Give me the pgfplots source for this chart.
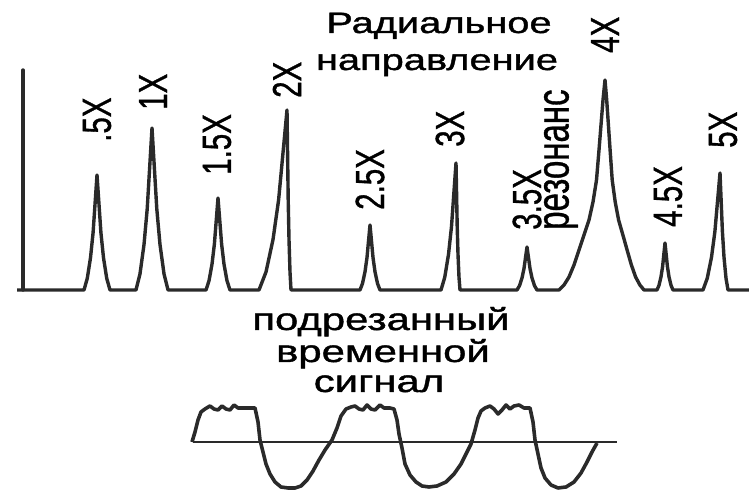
\documentclass[border=0pt]{standalone}
\usepackage{fontspec}
\setmainfont{Liberation Sans}
\newfontfamily\widefont[FakeStretch=1.35,FakeBold=1.3]{Liberation Sans}
\newfontfamily\labfont[FakeBold=1.0]{Liberation Sans}
\usepackage{graphicx}
\usepackage{pgfplots}
\pgfplotsset{compat=1.18}
\definecolor{ink}{HTML}{2A2A2A}
\newcommand{\vlab}[2][29.5]{\scalebox{1.38}[1]{\rotatebox{90}{\labfont\fontsize{#1}{#1}\selectfont #2}}}
\begin{document}
\begin{tikzpicture}
\useasboundingbox (0,0) rectangle (749pt,494pt);
% ---------------- spectrum ----------------
\begin{axis}[x=1pt, y=1pt, xmin=0, xmax=749, ymin=0, ymax=290,
  enlargelimits=false, hide axis, clip=false,
  at={(0pt,204pt)}, anchor=south west]
\addplot[ink, line width=3.4pt, line join=round, line cap=round] coordinates {
(23,0) (23,220)};
\addplot[ink, line width=3.4pt, line join=round] coordinates {
(17,0) (84,0) (87.25,11.5) (90.5,32.2) (93.1,57.5) (95.05,86.3) (97,115) (98.95,86.3) (100.9,57.5) (103.5,32.2) (106.75,11.5) (110,0)
(136,0) (140,16.2) (144,45.4) (147.2,81) (149.6,121.5) (152,162) (154.4,121.5) (156.8,81) (160,45.4) (164,16.2) (168,0)
(206,0) (209,9.2) (212,25.8) (214.4,46) (216.2,69) (218,92) (219.8,69) (221.6,46) (224,25.8) (227,9.2) (230,0)
(259,0) (266,18) (273,50.4) (278.6,90) (282.8,135) (287,180) (287.6,135) (288.2,90) (289,50.4) (290,18) (291,0)
(360,0) (362.5,6.5) (365,18.2) (367,32.5) (368.5,48.8) (370,65) (371.5,48.8) (373,32.5) (375,18.2) (377.5,6.5) (380,0)
(441,0) (444.75,12.7) (448.5,35.6) (451.5,63.5) (453.75,95.3) (456,127) (456.6,95.3) (457.2,63.5) (458,35.6) (459,12.7) (460,0)
(517,0) (519.5,4.3) (522,12) (524,21.5) (525.5,32.3) (527,43) (528.5,32.3) (530,21.5) (532,12) (534.5,4.3) (537,0)
(559,0) (564,5) (569,13) (574,25) (579,40) (584,55) (589,70) (593,88) (596.5,110) (599,140) (601,165) (603,190) (605,210)
(606.7,190) (608.4,165) (610.1,140) (612.2,110) (615.2,88) (618.6,70) (622.9,55) (627.1,40) (631.4,25) (635.6,13) (639.9,5) (644,0)
(657,0) (659,4.7) (661,13.2) (662.6,23.5) (663.8,35.3) (665,47) (666.2,35.3) (667.4,23.5) (669,13.2) (671,4.7) (673,0)
(703,0) (707.25,11.7) (711.5,32.8) (714.9,58.5) (717.45,87.8) (720,117) (721.2,87.8) (722.4,58.5) (724,32.8) (726,11.7) (728,0)
(749,0)};
\end{axis}
% ---------------- clipped time signal ----------------
\begin{axis}[x=1pt, y=1pt, xmin=0, xmax=749, ymin=-52, ymax=52,
  enlargelimits=false, hide axis, clip=false,
  at={(0pt,0pt)}, anchor=south west]
\addplot[ink, line width=2.6pt] coordinates {(193,0) (617,0)};
\addplot[ink, line width=3.6pt, line join=round] coordinates {
(192,0) (195,10) (198,22) (201,30) (205,33) (210,36) (214,33) (218,32) (222,36) (226,33) (230,32) (234,37) (238,34) (244,34) (250,34) (255,34)
(258,20) (260,2) (263,-10) (266,-22) (270,-32) (275,-40) (281,-45) (288,-46) (295,-46) (301,-44) (307,-38) (313,-29) (319,-18) (325,-8) (332,2)
(337,14) (341,26) (346,33) (351,35) (355,36) (359,33) (363,32) (367,37) (371,33) (375,32) (380,37) (384,34) (390,34) (394,33)
(397,22) (399,8) (402,-6) (405,-22) (410,-33) (416,-40) (422,-44) (429,-45) (437,-44) (446,-40) (454,-32) (461,-22) (466,-12) (471,-2)
(475,12) (478,24) (481,31) (485,34) (490,36) (494,33) (498,28) (502,32) (506,37) (510,33) (514,36) (519,37) (524,34) (530,34)
(533,20) (535,2) (538,-12) (541,-26) (545,-36) (551,-43) (558,-46) (566,-45) (574,-40) (581,-31) (587,-20) (592,-10) (597,-1)};
\end{axis}
% ---------------- texts ----------------
\begin{scope}[every node/.style={inner sep=0pt, text=black}]
\node[anchor=base] at (439pt,461pt) {\widefont\fontsize{29.5}{30}\selectfont Радиальное};
\node[anchor=base] at (437pt,424pt) {\widefont\fontsize{29.5}{30}\selectfont направление};
\node[anchor=south] at (97pt,352pt) {\vlab{.5X}};
\node[anchor=south] at (153pt,384pt) {\vlab{1X}};
\node[anchor=south] at (217pt,319pt) {\vlab{1.5X}};
\node[anchor=south] at (287pt,396pt) {\vlab{2X}};
\node[anchor=south] at (370pt,284pt) {\vlab{2.5X}};
\node[anchor=south] at (450pt,347pt) {\vlab{3X}};
\node[anchor=south] at (527pt,264pt) {\vlab{3.5X}};
\node[anchor=south] at (561pt,264pt) {\vlab[33]{резонанс}};
\node[anchor=south] at (605pt,441pt) {\vlab{4X}};
\node[anchor=south] at (668pt,267pt) {\vlab{4.5X}};
\node[anchor=south] at (723pt,346pt) {\vlab{5X}};
\node[anchor=base] at (381pt,164pt) {\widefont\fontsize{31}{31}\selectfont подрезанный};
\node[anchor=base] at (383pt,132pt) {\widefont\fontsize{31}{31}\selectfont временной};
\node[anchor=base] at (379pt,102pt) {\widefont\fontsize{31}{31}\selectfont сигнал};
\end{scope}
\end{tikzpicture}
\end{document}
